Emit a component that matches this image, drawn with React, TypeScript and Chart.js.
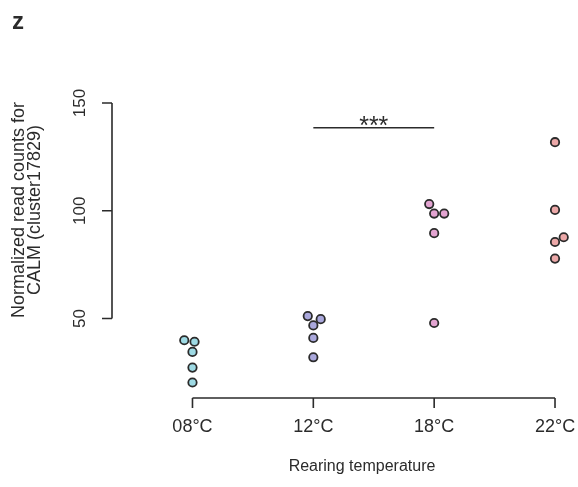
import React, { useEffect, useRef } from "react";
import { Chart, registerables } from "chart.js";

Chart.register(...registerables);

// ---- data ----
const categories = ["08°C", "12°C", "18°C", "22°C"];
const values08 = [39.9, 39.2, 34.5, 27.2, 20.3];
const values12 = [51.1, 49.7, 46.8, 41.0, 32.0];
const values18 = [103.1, 98.7, 98.7, 89.6, 47.9];
const values22 = [131.8, 100.4, 87.7, 85.5, 77.8];
const jitter08 = [-0.068, 0.017, 0, 0, 0];
const jitter12 = [-0.046, 0.061, 0, 0, 0];
const jitter18 = [-0.041, 0, 0.083, 0, 0];
const jitter22 = [0, 0, 0.072, 0, 0];
const yTicks = [50, 100, 150];
const sigFrom = 2;
const sigTo = 3;
const sigY = 138.5;
const sigLabel = "***";
const panelLabel = "z";
const xTitle = "Rearing temperature";
const yTitleLines = ["Normalized read counts for", "CALM (cluster17829)"];

const groupValues = [values08, values12, values18, values22];
const groupJitter = [jitter08, jitter12, jitter18, jitter22];
const fills = ["#9edae4", "#aaa8dc", "#e3a4d1", "#eca8a8"];

const FONT = '"Liberation Sans", Arial, Helvetica, sans-serif';
const INK = "#2b2b2b";

const axesPlugin = {
  id: "rAxes",
  afterDatasetsDraw(chart: any) {
    const ctx = chart.ctx;
    const x = chart.scales.x;
    const y = chart.scales.y;
    const area = chart.chartArea;
    ctx.save();
    ctx.strokeStyle = INK;
    ctx.fillStyle = INK;
    ctx.lineWidth = 1.6;
    ctx.lineCap = "butt";

    // y axis
    const yTop = y.getPixelForValue(yTicks[yTicks.length - 1]);
    const yBot = y.getPixelForValue(yTicks[0]);
    const ax = area.left;
    ctx.beginPath();
    ctx.moveTo(ax, yTop);
    ctx.lineTo(ax, yBot);
    yTicks.forEach((t) => {
      const py = y.getPixelForValue(t);
      ctx.moveTo(ax, py);
      ctx.lineTo(ax - 10, py);
    });
    ctx.stroke();
    ctx.font = `17px ${FONT}`;
    ctx.textAlign = "center";
    ctx.textBaseline = "middle";
    yTicks.forEach((t) => {
      const py = y.getPixelForValue(t);
      ctx.save();
      ctx.translate(ax - 32, py);
      ctx.rotate(-Math.PI / 2);
      ctx.fillText(String(t), 0, 0);
      ctx.restore();
    });

    // x axis
    const ay = area.bottom;
    const x1 = x.getPixelForValue(1);
    const x4 = x.getPixelForValue(categories.length);
    ctx.beginPath();
    ctx.moveTo(x1, ay);
    ctx.lineTo(x4, ay);
    categories.forEach((_, i) => {
      const px = x.getPixelForValue(i + 1);
      ctx.moveTo(px, ay);
      ctx.lineTo(px, ay + 10);
    });
    ctx.stroke();
    ctx.font = `18px ${FONT}`;
    categories.forEach((c, i) => {
      const px = x.getPixelForValue(i + 1);
      ctx.fillText(c, px, ay + 29);
    });

    // titles
    ctx.font = `16px ${FONT}`;
    ctx.fillText(xTitle, 362, 467);
    ctx.font = `18px ${FONT}`;
    yTitleLines.forEach((line, i) => {
      ctx.save();
      ctx.translate(19 + i * 16, 210);
      ctx.rotate(-Math.PI / 2);
      ctx.fillText(line, 0, 0);
      ctx.restore();
    });

    // significance bar
    const sx1 = x.getPixelForValue(sigFrom);
    const sx2 = x.getPixelForValue(sigTo);
    const sy = y.getPixelForValue(sigY);
    ctx.beginPath();
    ctx.moveTo(sx1, sy);
    ctx.lineTo(sx2, sy);
    ctx.stroke();
    ctx.font = `25px ${FONT}`;
    ctx.textBaseline = "alphabetic";
    ctx.fillText(sigLabel, (sx1 + sx2) / 2, sy + 6);

    // panel label
    ctx.font = `bold 24px ${FONT}`;
    ctx.textAlign = "left";
    ctx.fillText(panelLabel, 12, 29);
    ctx.restore();
  },
};

export default function App() {
  const ref = useRef<HTMLCanvasElement>(null);
  useEffect(() => {
    document.body.style.margin = "0";
    const datasets = groupValues.map((vals, g) => ({
      label: categories[g],
      data: vals.map((v, i) => ({ x: g + 1 + groupJitter[g][i], y: v })),
      backgroundColor: fills[g],
      borderColor: INK,
      borderWidth: 1.8,
      pointRadius: 4.2,
    }));
    const chart = new Chart(ref.current as HTMLCanvasElement, {
      type: "scatter",
      data: { datasets },
      options: {
        animation: false,
        responsive: false,
        layout: { padding: { left: 112, top: 103, right: 8, bottom: 89 } },
        plugins: { legend: { display: false }, tooltip: { enabled: false } },
        scales: {
          x: { type: "linear", min: 0.334, max: 4.124, display: false },
          y: { type: "linear", min: 13.1, max: 150, display: false },
        },
      },
      plugins: [axesPlugin],
    });
    return () => chart.destroy();
  }, []);
  return (
    <div style={{ width: 578, height: 487, background: "#fff" }}>
      <canvas ref={ref} width={578} height={487} style={{ display: "block" }} />
    </div>
  );
}
